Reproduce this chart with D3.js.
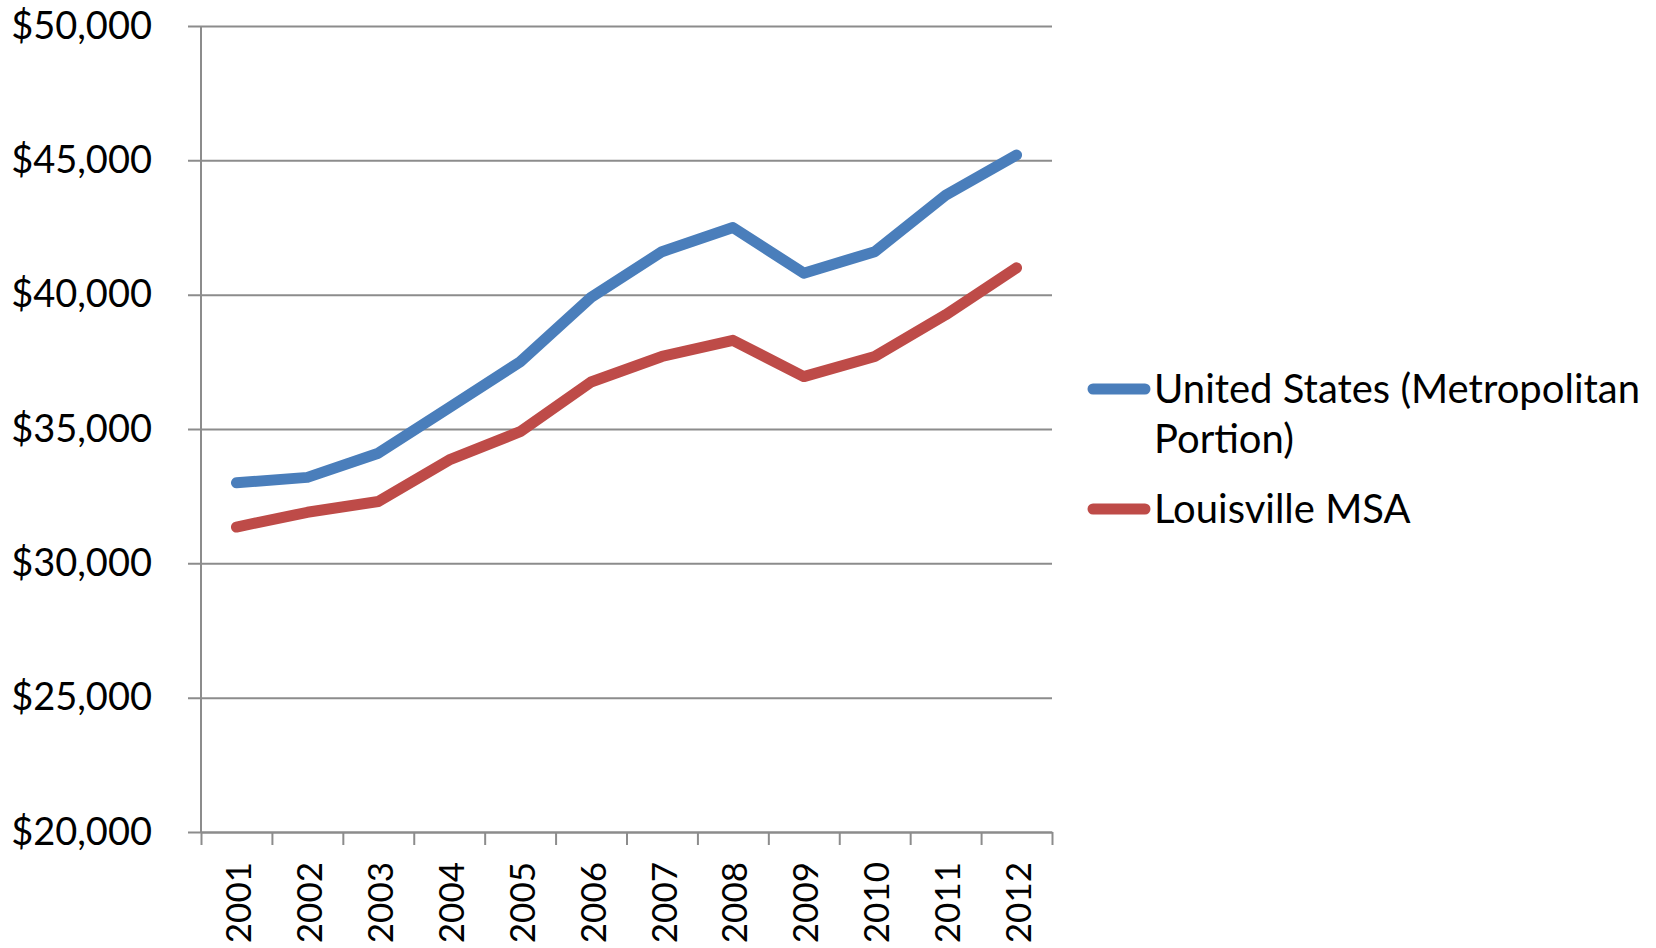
<!DOCTYPE html>
<html>
<head>
<meta charset="utf-8">
<script src="https://d3js.org/d3.v7.min.js"></script>
<style>
  body { margin: 0; background: #fff; }
  text { font-family: Lato, "Open Sans", sans-serif; fill: #000; }
</style>
</head>
<body>
<div id="my_dataviz"></div>
<script>

// data
var years = ["2001","2002","2003","2004","2005","2006","2007","2008","2009","2010","2011","2012"];
var usMetro = [33000, 33200, 34100, 35800, 37500, 39900, 41600, 42500, 40800, 41600, 43700, 45200];
var louisville = [31350, 31900, 32300, 33850, 34900, 36750, 37700, 38300, 36950, 37700, 39250, 41000];
var yTicks = [20000, 25000, 30000, 35000, 40000, 45000, 50000];
var seriesNames = ["United States (Metropolitan Portion)", "Louisville MSA"];
var seriesColors = ["#4A7EBB", "#BE4B48"];

var margin = {top: 26, right: 604, bottom: 116, left: 201},
    width = 1656 - margin.left - margin.right,
    height = 948 - margin.top - margin.bottom;

var svg = d3.select("#my_dataviz")
  .append("svg")
    .attr("width", 1656)
    .attr("height", 948)
  .append("g")
    .attr("transform", "translate(" + margin.left + "," + margin.top + ")");

var x = d3.scaleBand()
  .domain(years)
  .range([0, width]);

// boundaries for the tick marks between categories
var xEdge = d3.scaleLinear()
  .domain([0, years.length])
  .range([0, width]);

var y = d3.scaleLinear()
  .domain([20000, 50000])
  .range([height, 0]);

var gridColor = "#8c8c8c";

// horizontal gridlines + y labels
var yAxis = svg.append("g")
  .call(d3.axisLeft(y)
    .tickValues(yTicks)
    .tickSize(-width)
    .tickFormat(function(d){ return "$" + d3.format(",")(d) }));
yAxis.select(".domain").remove();
yAxis.selectAll(".tick line")
  .attr("x1", -13)
  .attr("stroke", gridColor)
  .attr("stroke-width", 2);
yAxis.selectAll(".tick text")
  .attr("x", -49)
  .style("font-size", "38px")
  .style("font-family", "Lato");

// vertical axis line
svg.append("line")
  .attr("x1", 0).attr("x2", 0)
  .attr("y1", 0).attr("y2", height)
  .attr("stroke", gridColor)
  .attr("stroke-width", 2);

// x axis with ticks at category edges
var xAxis = svg.append("g")
  .attr("transform", "translate(0," + height + ")")
  .call(d3.axisBottom(xEdge)
    .tickValues(d3.range(years.length + 1))
    .tickSize(13)
    .tickSizeOuter(0)
    .tickFormat(""));
xAxis.select(".domain").attr("stroke", gridColor).attr("stroke-width", 2);
xAxis.selectAll(".tick line").attr("stroke", gridColor).attr("stroke-width", 2);

// rotated year labels
svg.selectAll("yearLabels")
  .data(years)
  .enter()
  .append("text")
    .attr("transform", function(d){ return "translate(" + (x(d) + x.bandwidth()/2 + 2) + "," + (height + 30) + ") rotate(-90)" })
    .attr("text-anchor", "end")
    .attr("dy", "0.36em")
    .style("font-size", "35px")
    .text(function(d){ return d });

// lines
var dataReady = [usMetro, louisville].map(function(vals, i){
  return { name: seriesNames[i], color: seriesColors[i],
    values: vals.map(function(v, j){ return {year: years[j], value: v} }) };
});

var line = d3.line()
  .x(function(d){ return x(d.year) + x.bandwidth()/2 })
  .y(function(d){ return y(d.value) });

svg.selectAll("myLines")
  .data(dataReady)
  .enter()
  .append("path")
    .attr("d", function(d){ return line(d.values) })
    .attr("stroke", function(d){ return d.color })
    .style("stroke-width", 11)
    .style("stroke-linecap", "round")
    .style("stroke-linejoin", "round")
    .style("fill", "none");

// legend
var legend = svg.append("g")
  .attr("transform", "translate(" + (1093 - margin.left) + "," + (389 - margin.top) + ")");

var legendRows = [
  {lines: ["United States (Metropolitan", "Portion)"], color: seriesColors[0], dy: 0},
  {lines: ["Louisville MSA"], color: seriesColors[1], dy: 120}
];

legendRows.forEach(function(r){
  var g = legend.append("g").attr("transform", "translate(0," + r.dy + ")");
  g.append("line")
    .attr("x1", 0).attr("x2", 52)
    .attr("y1", 0).attr("y2", 0)
    .attr("stroke", r.color)
    .attr("stroke-width", 11)
    .attr("stroke-linecap", "round");
  g.selectAll("text")
    .data(r.lines)
    .enter()
    .append("text")
      .attr("x", 61)
      .attr("y", function(d, i){ return 14 + i*50 })
      .style("font-size", "40px")
      .text(function(d){ return d });
});

</script>
</body>
</html>
